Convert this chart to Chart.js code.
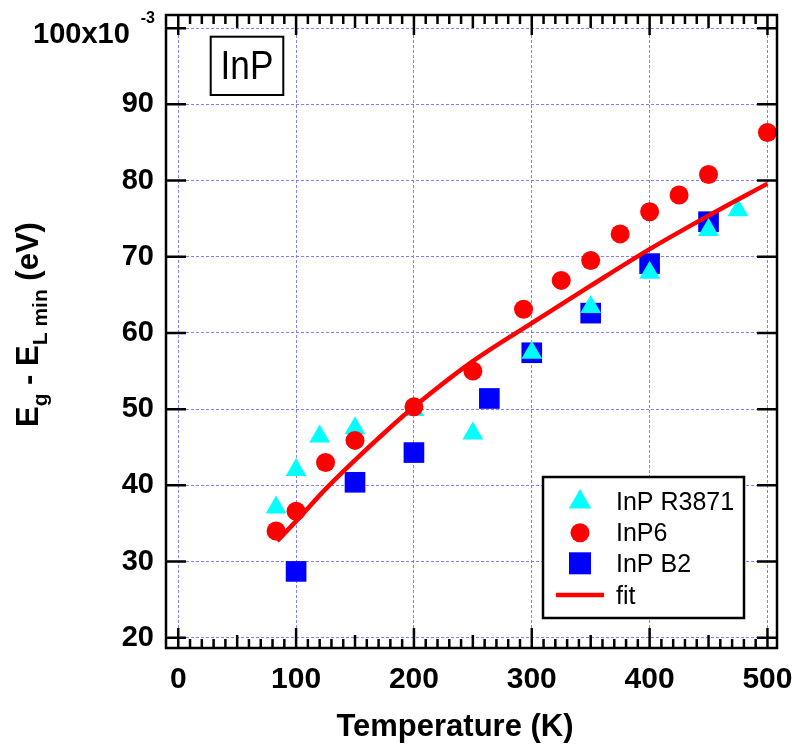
<!DOCTYPE html>
<html>
<head>
<meta charset="utf-8">
<script src="https://cdn.jsdelivr.net/npm/chart.js@4.4.1/dist/chart.umd.min.js"></script>
<style>html,body{margin:0;padding:0;background:#fff}canvas{display:block}</style>
</head>
<body>
<canvas id="c" width="795" height="745"></canvas>
<script>
// ---- data ----
const triT = [83, 100, 120, 150, 200, 250, 300, 350, 400, 450, 475];
const triE = [37.1, 42.0, 46.4, 47.5, 49.9, 46.8, 57.4, 63.4, 67.9, 73.5, 76.1];

const circT = [83, 100, 125, 150, 200, 250, 293, 325, 350, 375, 400, 425, 450, 500];
const circE = [34.0, 36.6, 43.0, 45.9, 50.3, 55.0, 63.1, 66.9, 69.5, 73.0, 75.9, 78.1, 80.8, 86.3];

const sqT = [100, 150, 200, 264, 300, 350, 400, 450];
const sqE = [28.7, 40.4, 44.3, 51.4, 57.4, 62.6, 69.1, 74.6];

const fitT = [84, 100, 125, 150, 175, 200, 250, 300, 350, 400, 450, 500];
const fitE = [32.7, 35.3, 39.5, 43.3, 46.9, 50.3, 56.3, 61.3, 66.2, 71.0, 75.4, 79.6];

const seriesNames = ['InP R3871', 'InP6', 'InP B2', 'fit'];
const xTickValues = [0, 100, 200, 300, 400, 500];
const xTickLabels = ['0', '100', '200', '300', '400', '500'];
const yTickValues = [20, 30, 40, 50, 60, 70, 80, 90, 100];
const yTickLabels = ['20', '30', '40', '50', '60', '70', '80', '90', ['', '100x10   ']];
const yTopExponent = '-3';
const xTitle = 'Temperature (K)';
const yTitleParts = [['E', 'main'], ['g', 'sub'], [' - E', 'main'], ['L min', 'sub'], [' (eV)', 'main']];
const panelLabel = 'InP';

const FONT = '"Liberation Sans", Arial, Helvetica, sans-serif';
const CYAN = '#00FFFF', RED = '#FF0000', BLUE = '#0000FF';

const toPts = (xs, ys) => xs.map((x, i) => ({x: x, y: ys[i]}));

function trianglePath(ctx, x, y, r) {
  ctx.beginPath();
  ctx.moveTo(x, y - r);
  ctx.lineTo(x + r * Math.sin(2 * Math.PI / 3), y + r / 2);
  ctx.lineTo(x - r * Math.sin(2 * Math.PI / 3), y + r / 2);
  ctx.closePath();
}

const decorPlugin = {
  id: 'decor',
  afterDatasetsDraw(chart) {
    const ctx = chart.ctx;
    ctx.save();
    // panel label box
    ctx.fillStyle = '#fff';
    ctx.fillRect(210.7, 36.7, 72.6, 58.3);
    ctx.lineWidth = 2;
    ctx.strokeStyle = '#000';
    ctx.strokeRect(210.7, 36.7, 72.6, 58.3);
    ctx.fillStyle = '#000';
    ctx.save();
    ctx.translate(247, 79.3);
    ctx.scale(0.88, 1);
    ctx.font = '40px ' + FONT;
    ctx.textAlign = 'center';
    ctx.textBaseline = 'alphabetic';
    ctx.fillText(panelLabel, 0, 0);
    ctx.restore();

    // legend
    const lx = 543, ly = 477, lw = 201, lh = 141;
    ctx.fillStyle = '#fff';
    ctx.fillRect(lx, ly, lw, lh);
    ctx.lineWidth = 2.5;
    ctx.strokeStyle = '#000';
    ctx.strokeRect(lx, ly, lw, lh);
    const sx = 580;
    const base = [510, 541, 572, 604];
    ctx.fillStyle = CYAN;
    trianglePath(ctx, sx, 502, 13);
    ctx.fill();
    ctx.fillStyle = RED;
    ctx.beginPath(); ctx.arc(sx, 532.7, 9.5, 0, Math.PI * 2); ctx.fill();
    ctx.fillStyle = BLUE;
    ctx.fillRect(sx - 11, 563.3 - 11, 22, 22);
    ctx.strokeStyle = RED;
    ctx.lineWidth = 4.5;
    ctx.beginPath(); ctx.moveTo(556, 595); ctx.lineTo(604, 595); ctx.stroke();
    ctx.fillStyle = '#000';
    ctx.font = '25px ' + FONT;
    ctx.textAlign = 'left';
    ctx.textBaseline = 'alphabetic';
    seriesNames.forEach((n, i) => ctx.fillText(n, 616, base[i]));
    ctx.restore();
  },
  afterDraw(chart) {
    const ctx = chart.ctx;
    const a = chart.chartArea;
    const xs = chart.scales.x, ys = chart.scales.y;
    ctx.save();
    ctx.strokeStyle = '#000';
    ctx.lineWidth = 2.5;
    ctx.lineCap = 'butt';
    ctx.beginPath();
    // x ticks (major every 100, minor every 10, mid at 50)
    for (let v = 0; v <= 500; v += 10) {
      const px = xs.getPixelForValue(v);
      const len = v % 100 === 0 ? 20 : (v % 50 === 0 ? 13 : 9);
      ctx.moveTo(px, a.bottom); ctx.lineTo(px, a.bottom - len);
      ctx.moveTo(px, a.top); ctx.lineTo(px, a.top + len);
    }
    yTickValues.forEach(v => {
      const py = ys.getPixelForValue(v);
      ctx.moveTo(a.left, py); ctx.lineTo(a.left + 20, py);
      ctx.moveTo(a.right, py); ctx.lineTo(a.right - 20, py);
    });
    ctx.stroke();
    ctx.strokeRect(a.left, a.top, a.right - a.left, a.bottom - a.top);

    // exponent of the top y label
    ctx.fillStyle = '#000';
    ctx.font = 'bold 16px ' + FONT;
    ctx.textAlign = 'right';
    ctx.textBaseline = 'alphabetic';
    ctx.fillText(yTopExponent, a.left - 11, ys.getPixelForValue(100) - 5.5);

    // axis titles
    ctx.font = 'bold 31px ' + FONT;
    ctx.textAlign = 'center';
    ctx.fillText(xTitle, 455, 736);

    ctx.save();
    ctx.translate(37.5, 427);
    ctx.rotate(-Math.PI / 2);
    ctx.textAlign = 'left';
    let x = 0;
    yTitleParts.forEach(([t, kind]) => {
      const sub = kind === 'sub';
      ctx.font = 'bold ' + (sub ? 21 : 31) + 'px ' + FONT;
      ctx.fillText(t, x, sub ? 9 : 0);
      x += ctx.measureText(t).width;
    });
    ctx.restore();
    ctx.restore();
  }
};

const gridStyle = {
  color: '#8080FF',
  lineWidth: 1,
  drawTicks: false
};
const borderStyle = {display: false, dash: [3, 2]};

new Chart(document.getElementById('c'), {
  type: 'scatter',
  data: {
    datasets: [
      {
        label: seriesNames[3], data: toPts(fitT, fitE), showLine: true,
        borderColor: RED, borderWidth: 4.5, pointRadius: 0, pointHoverRadius: 0,
        cubicInterpolationMode: 'monotone', fill: false, order: 0
      },
      {
        label: seriesNames[1], data: toPts(circT, circE), pointStyle: 'circle',
        pointRadius: 9.5, backgroundColor: RED, borderWidth: 0, order: 1
      },
      {
        label: seriesNames[0], data: toPts(triT, triE), pointStyle: 'triangle',
        pointRadius: 12, backgroundColor: CYAN, borderWidth: 0, order: 2
      },
      {
        label: seriesNames[2], data: toPts(sqT, sqE), pointStyle: 'rect',
        pointRadius: 14.6, backgroundColor: BLUE, borderWidth: 0, order: 3
      }
    ]
  },
  options: {
    responsive: false,
    animation: false,
    events: [],
    layout: {padding: {left: 0, right: 18, top: 15, bottom: 0}},
    plugins: {legend: {display: false}, tooltip: {enabled: false}},
    scales: {
      x: {
        type: 'linear', min: -10.4, max: 508.1,
        grid: gridStyle,
        border: borderStyle,
        afterBuildTicks: s => { s.ticks = xTickValues.map(v => ({value: v})); },
        afterFit: s => { s.height = 97; s.paddingLeft = 0; s.paddingRight = 0; },
        ticks: {
          autoSkip: false, maxRotation: 0, padding: 14, color: '#000',
          font: {family: FONT, size: 30, weight: 'bold'},
          callback: (v) => { const i = xTickValues.indexOf(v); return i >= 0 ? xTickLabels[i] : ''; }
        }
      },
      y: {
        type: 'linear', min: 18.65, max: 101.73,
        grid: gridStyle,
        border: borderStyle,
        afterBuildTicks: s => { s.ticks = yTickValues.map(v => ({value: v})); },
        afterFit: s => { s.width = 166; s.paddingTop = 0; s.paddingBottom = 0; },
        ticks: {
          autoSkip: false, padding: 12, color: '#000',
          font: (ctx) => ({family: FONT, size: 29, weight: 'bold',
            lineHeight: (ctx.tick && ctx.tick.value === 100) ? 0.5 : 1.2}),
          callback: (v) => { const i = yTickValues.indexOf(v); return i >= 0 ? yTickLabels[i] : ''; }
        }
      }
    }
  },
  plugins: [decorPlugin]
});
</script>
</body>
</html>
